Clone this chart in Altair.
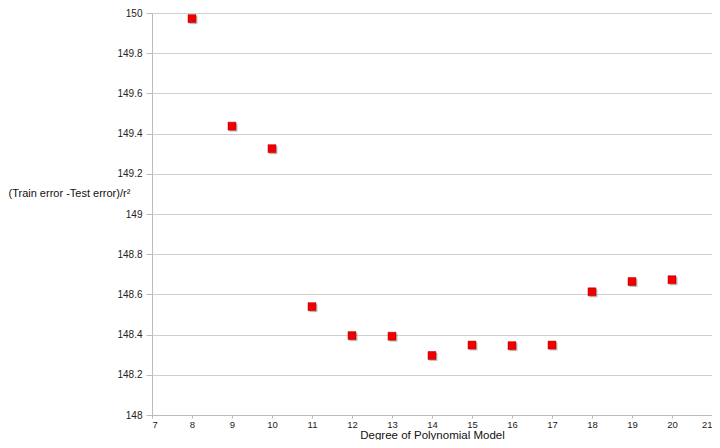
import altair as alt
import pandas as pd

degree = [8, 9, 10, 11, 12, 13, 14, 15, 16, 17, 18, 19, 20]
diff = [149.972, 149.437, 149.325, 148.539, 148.395, 148.392, 148.296,
        148.348, 148.345, 148.348, 148.613, 148.664, 148.673]
x_ticks = list(range(7, 22))
y_ticks = [148, 148.2, 148.4, 148.6, 148.8, 149, 149.2, 149.4, 149.6, 149.8, 150]

df = pd.DataFrame({"degree": degree, "diff": diff})

FONT = "Liberation Sans"

x_enc = alt.X("degree:Q", scale=alt.Scale(domain=[7, 21], nice=False, zero=False),
              axis=alt.Axis(values=x_ticks, title="Degree of Polynomial Model", grid=False,
                            labelFontSize=9.5, titleFontSize=11.5, titleFontWeight="normal",
                            titleFont=FONT, labelFont=FONT, labelColor="#222", titleColor="#111",
                            domainColor="#bbb", tickColor="#bbb", tickSize=3,
                            titleY=25, titleBaseline="bottom", labelPadding=1))
y_enc = alt.Y("diff:Q", scale=alt.Scale(domain=[148, 150], nice=False, zero=False),
              axis=alt.Axis(values=y_ticks, title="(Train error -Test error)/r²",
                            titleAngle=0, titleX=-144, titleY=180, titleAlign="left",
                            titleBaseline="middle", labelFontSize=10, titleFontSize=11,
                            titleFontWeight="normal", titleFont=FONT, labelFont=FONT,
                            labelColor="#222", titleColor="#111", gridColor="#cfcfcf",
                            domainColor="#bbb", tickColor="#bbb", tickSize=6, labelPadding=4,
                            labelExpr="format(datum.value, '~g')"))

shadow = alt.Chart(df).mark_square(size=64, color="#777", opacity=0.45, xOffset=1.5,
                                   yOffset=1.5).encode(x=x_enc, y=y_enc)
points = alt.Chart(df).mark_square(size=64, color="#ee0000", opacity=1,
                                   stroke="#b00000", strokeWidth=0.5).encode(x=x_enc, y=y_enc)

chart = alt.layer(shadow, points).properties(
    width=560, height=402,
    autosize=alt.AutoSizeParams(type="none"),
    padding={"left": 144, "top": 5, "right": 0, "bottom": 25},
).configure_view(stroke=None).configure(background="white")

chart.save("out.html", embed_options={"renderer": "svg", "actions": False})
